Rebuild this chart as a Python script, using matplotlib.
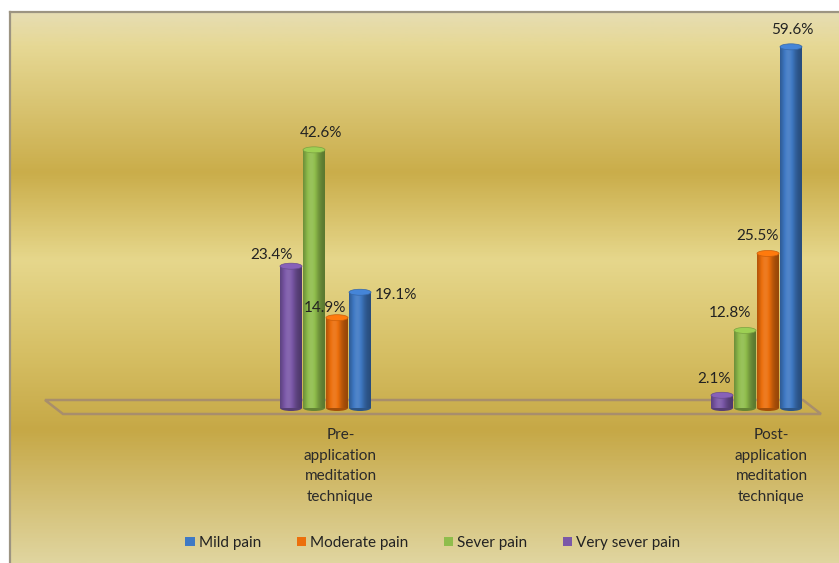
import numpy as np
import matplotlib
matplotlib.use("Agg")
import matplotlib.pyplot as plt
from matplotlib.patches import Ellipse, Patch, Polygon
from matplotlib.colors import to_rgb, LinearSegmentedColormap

# ---------------- data ----------------
categories = ["Pre-\napplication\nmeditation\ntechnique",
              "Post-\napplication\nmeditation\ntechnique"]
series_names = ["Mild pain", "Moderate pain", "Sever pain", "Very sever pain"]
mild = [19.1, 59.6]
moderate = [14.9, 25.5]
sever = [42.6, 12.8]
very_sever = [23.4, 2.1]

# ---------------- styles ----------------
colors = {"Mild pain": "#3f79c4", "Moderate pain": "#ec6f0c",
          "Sever pain": "#8fbd4c", "Very sever pain": "#7b58a8"}
plt.rcParams['font.family'] = ['Lato', 'DejaVu Sans']

W, H = 839, 563
fig = plt.figure(figsize=(W / 100, H / 100), dpi=100, facecolor="white")
ax = fig.add_axes([10 / W, 0, (W - 10) / W, (H - 12) / H])

ppu = 6.06      # px per percent
xu = 431.0      # px per category unit
base_px = 408
c0 = 325.5
ymax = (base_px - 12) / ppu
ymin = -(H - base_px) / ppu
xmin = (10 - c0) / xu
xmax = (W - c0) / xu

# background gradient
stops = [(0.00, "#e6ddb2"), (0.06, "#e6d894"), (0.29, "#caad4a"),
         (0.45, "#e6d78c"), (0.62, "#d6bf64"), (0.76, "#c6a846"),
         (1.00, "#e0d59f")]
cmap_bg = LinearSegmentedColormap.from_list("bg", stops)
grad = np.linspace(0, 1, 400).reshape(-1, 1)
ax.imshow(grad, cmap=cmap_bg, aspect="auto", extent=[0, 1, 0, 1],
          transform=ax.transAxes, zorder=0, interpolation="bilinear")

# floor (3D base plane)
yb = (base_px - 400) / ppu
yf = (base_px - 414) / ppu
floor = Polygon([[(45 - c0) / xu, yb], [(803 - c0) / xu, yb],
                 [(821 - c0) / xu, yf], [(63 - c0) / xu, yf]],
                closed=True, fill=False, edgecolor="#a88e6c", lw=1.8, zorder=1)
ax.add_patch(floor)

# bars (cylinders)
order = ["Very sever pain", "Sever pain", "Moderate pain", "Mild pain"]
values = {"Mild pain": mild, "Moderate pain": moderate,
          "Sever pain": sever, "Very sever pain": very_sever}
step = 23.0 / xu
bw = 22.0 / xu
ell_h = 6.0 / ppu


def shade(color, n=60):
    c = np.array(to_rgb(color))
    t = np.linspace(0, 1, n)
    m = 0.62 + 0.48 * np.exp(-((t - 0.38) / 0.34) ** 2)
    out = []
    for mi in m:
        if mi <= 1:
            out.append(c * mi)
        else:
            out.append(c + (1 - c) * (mi - 1) * 0.9)
    return np.clip(np.array(out), 0, 1).reshape(1, n, 3)


for gi in range(len(categories)):
    for si, name in enumerate(order):
        v = values[name][gi]
        xc = gi + (si - 1.5) * step
        x0, x1 = xc - bw / 2, xc + bw / 2
        img = shade(colors[name])
        ax.imshow(img, aspect="auto", extent=[x0, x1, 0, v],
                  interpolation="bilinear", zorder=3 + si)
        bot = Ellipse((xc, 0), bw, ell_h, facecolor=np.array(to_rgb(colors[name])) * 0.7,
                      edgecolor="none", zorder=2.9 + si)
        ax.add_patch(bot)
        top = Ellipse((xc, v), bw, ell_h,
                      facecolor=np.clip(np.array(to_rgb(colors[name])) * 1.1, 0, 1),
                      edgecolor=np.array(to_rgb(colors[name])) * 0.85, lw=0.5,
                      zorder=3.1 + si)
        ax.add_patch(top)

# value labels: offsets (px) from the top-center of each bar
label_offsets = {
    (0, "Very sever pain"): (-20, 4), (0, "Sever pain"): (7, 10),
    (0, "Moderate pain"): (-12, 3), (0, "Mild pain"): (36, -10),
    (1, "Very sever pain"): (-8, 9), (1, "Sever pain"): (-15, 10),
    (1, "Moderate pain"): (-11, 10), (1, "Mild pain"): (1, 10),
}
for gi in range(len(categories)):
    for si, name in enumerate(order):
        v = values[name][gi]
        xc = gi + (si - 1.5) * step
        dx, dy = label_offsets[(gi, name)]
        ax.annotate(f"{v:.1f}%", (xc, v), xytext=(dx * 0.72, dy * 0.72),
                    textcoords="offset points", ha="center", va="bottom",
                    fontsize=11, color="#222222", zorder=20)

# category labels
for gi, cat in enumerate(categories):
    ax.text(gi + 15 / xu, -(428 - base_px) / ppu, cat, ha="center", va="top",
            fontsize=11, color="#2a2a2a", linespacing=1.6, zorder=20)

ax.set_xlim(xmin, xmax)
ax.set_ylim(ymin, ymax)
ax.set_xticks([])
ax.set_yticks([])
for s in ["right", "bottom"]:
    ax.spines[s].set_visible(False)
for s in ["left", "top"]:
    ax.spines[s].set_color("#9c9482")
    ax.spines[s].set_linewidth(1.6)

handles = [Patch(facecolor=colors[n], edgecolor="none") for n in series_names]
fig.legend(handles, series_names, loc="center", bbox_to_anchor=(433 / W, 1 - 543 / H),
           ncol=4, frameon=False, fontsize=11, handlelength=0.6, handleheight=0.6,
           handletextpad=0.3, columnspacing=2.3, labelcolor="#222222")

fig.savefig("out.png", dpi=100, facecolor="white")
